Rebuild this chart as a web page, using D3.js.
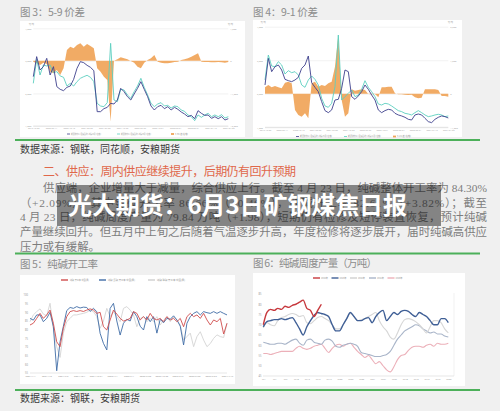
<!DOCTYPE html>
<html><head><meta charset="utf-8">
<script src="https://cdn.jsdelivr.net/npm/d3@7"></script>
<style>html,body{margin:0;padding:0;background:#f0f0f0;}svg{display:block}</style>
</head><body><svg id="c" width="500" height="411"></svg>
<script>
// ---------- DATA ----------
const c3Near=[2515,3130,2720,2822,3078,2566,2822,2208,2126,2085,2187,2228,2433,2771,2976,2945,2863,2802,2700,1440,1440,1532,1573,1696,1676,1798,2157,2054,1901,1798,1983,2157,2362,2126,1901,1614,1491,1594,1635,1532,1594,1491,1573,1512,1430,1368,1286,1327,1225,1471,1389,1327,1338,1235,1286,1225,1286,1184,1225];
const c3Far=[2310,3048,2566,2874,2843,2874,2638,2669,2536,2495,2228,2310,2228,2362,2464,2515,2556,2495,2362,1696,1614,1594,1717,3539,1798,1747,2126,2105,1952,1850,2054,2228,2464,2187,1952,1696,1594,1676,1717,1614,1635,1553,1614,1594,1491,1450,1338,1286,1164,1338,1266,1338,1389,1286,1338,1286,1348,1245,1286];
const c3Spread=[-24,-75,-126,-55,-96,-331,-382,-280,-434,-229,334,437,386,488,539,437,519,457,386,-229,-331,-485,-587,-1867,0,48,109,78,48,-3,-55,-178,-229,-55,27,78,181,-24,-55,-75,-75,-55,-34,-24,27,48,78,130,181,232,-24,-34,-34,-45,-45,-34,-45,-55,-34];
const c3XLabels=["2019-12-02","2020-05-11","2020-10-13","2021-03-08","2021-07-30","2021-12-23","2022-05-25","2022-10-24","2023-03-24","2023-08-21","2024-01-16","2024-04-23"];
const c3LeftTicks=[1000,2000,3000,4000];
const c3RightTicks=[-2000,-1000,0,1000];
const c3Legend=["期货收盘价(活跃合约):纯碱(5月)(左轴)","期货收盘价(活跃合约):纯碱(9月)(左轴)","5-9价差(右轴)"];

const c4Near=[2262,3056,2659,2808,2858,2709,2430,2391,2361,2411,2490,2758,2858,3126,2331,2192,2063,1765,1497,1437,1517,1814,1834,2162,2709,2659,1914,1834,1934,2063,2262,2132,1963,1814,1517,1437,1497,1536,1517,1417,1368,1338,1298,1238,1218,1368,1397,1368,1268,1169,1139,1238,1298,1338,1318,1278];
const c4Far=[2411,3156,2828,2808,2957,2858,2589,2689,2629,2659,2560,2262,2192,2411,2530,2430,2262,1864,1636,1596,1715,2212,3752,1814,1914,2013,2113,1914,1963,2132,2390,2192,2063,1914,1695,1665,1715,1695,1636,1566,1497,1467,1417,1397,1368,1437,1497,1437,1368,1318,1338,1368,1388,1368,1318,1338];
const c4Spread=[192,262,192,232,192,162,331,361,311,-483,-633,-682,-583,-732,311,361,212,262,232,311,361,808,1752,-186,-682,-583,132,93,112,132,112,-7,-17,-7,-106,192,192,212,212,13,-17,-17,-27,-37,-27,-106,-136,-116,132,132,132,132,112,-66,-66,-86];
const c4XLabels=["2019-12-02","2020-05-11","2020-10-13","2021-03-08","2021-07-30","2021-12-23","2022-05-25","2022-10-24","2023-03-24","2023-08-21","2024-01-16","2024-04-23"];
const c4LeftTicks=[1000,2000,3000,4000];
const c4RightTicks=[-1000,0,1000,2000];
const c4Legend=["期货收盘价(活跃合约):纯碱(9月)(左轴)","期货收盘价(活跃合约):纯碱(1月)(左轴)","9-1价差(右轴)"];

const c5Total=[82.7,83.7,86.5,89.4,86.5,88.5,91.3,83.7,73,70.2,80.8,87.5,90.4,91,90.5,91,90.5,91.3,92,91.3,89.4,90,81.7,79.8,85.6,91.3,89,86.5,85,85.6,86.5,90.4,89.4,85.6,87.5,85.6,89.4,86.5,85.6,86.5,84.6,87.5,85.6,86.5,84.6,86.5,81.7,87.5,89.4,87.5,88.5,86.5,89.4,85.6,82.7,85.6,84.6,86.5,77.5,83.7];
const c5Ammonia=[86.5,85.5,88.5,88.5,84.6,86.5,90,81.7,56.3,73,82,91,92.8,92.3,93.3,92.5,93,92.8,90.5,92.3,90.4,77.9,72.1,68.3,92.3,95.2,85,76.9,83.7,86,85,90.4,87.5,82,79.8,87.5,84.6,87.5,78,86,84,86.5,86,88,85.6,82,71.2,83.7,87.5,89.4,90.4,88.5,90.4,89.8,89.4,90.4,89.4,90.4,89.4,88.5];
const c5Joint=[84.6,88.5,90.4,92,89,88,95.2,80.8,70.2,64,78,84.6,86.5,88.5,88.5,89,89.4,90,91.3,90.4,87.5,80.8,85,92.3,87.5,90.4,87.5,84.6,92.3,93.3,91.3,88.5,81.7,86.5,87.5,84.6,86.5,84.6,87.5,82.7,85.6,87.5,84.6,87.5,85.6,82.7,74,76,78,70.2,76,78.8,74,70.2,72,75,77,76,75.5,83.7];
const c5XLabels=["2021/1/1","2021/4/2","2021/7/2","2021/10/1","2021/12/31","2022/4/1","2022/7/1","2022/9/30","2022/12/30","2023/3/31","2023/6/30","2023/9/29","2024/4/19"];
const c5YTicks=[55,60,65,70,75,80,85,90,95,100];
const c5Legend=["纯碱:开工率:中国(周)","纯碱:氨碱:开工率:中国(周)","纯碱:联碱:开工率:中国(周)"];

const c6Y2024=[70,76,77.5,77,78,77.5,79,78.5,79.5,80,81,82,78,77,74,77,80];
const c6Y2023=[69,71.5,72,72.5,72.5,73,72.5,73,73.5,71,68,65,69,72,74.5,76,75.5,75,74,70,67,67,70,73,76,74,72,72,73,73.5,71,74,76,77,72,74,76,75,76.5,77,76.5,75,74,76,75,74,72,70,70,73,73,71];
const c6Y2022=[68.5,71,70,69.5,72,73.5,74,75,75.5,75,74,74.5,71,70.5,72,73.5,74,73,72,70,68,68,70,73,75.5,74,72,72.5,73,74,75,76,72,69,67,64,63,66,70,72.5,73,72.5,71.5,70,68,66,69,72,72,71,68,66];
const c6Y2021=[61.5,61,60.5,60.5,61,61,60.5,61.5,62.5,63,61,60,62.5,63,61.5,61,60.5,62.5,63,62,59.5,59,60,60.5,61,60.5,59.5,56.5,56,55.5,55,54.5,54.5,55,55.5,57,60,63,65,67,68,69,70,69.5,68,67,66,66.5,65.5,65.5,64.5,64];
const c6Y2020=[56,56,55.5,56,56.5,57,57,57,57,58.5,59.5,58.5,58,58.5,59.5,60,60.5,58.5,56.5,58.5,60,60.5,59.5,60.5,61,59,57,55.5,54,55,53,51,52,50,48,47,49.5,53,55,55.5,57.5,59,59.5,59.5,59,60,60.5,59.5,61,60.5,60.5,61];
const c6Years=["2024年","2023年","2022年","2021年","2020年"];
const c6XTicks=[1,4,7,10,13,16,19,22,25,28,31,34,37,40,43,46,49,52];
const c6YTicks=[45,50,55,60,65,70,75,80,85];

const captions=["图 3：5-9 价差","图 4：9-1 价差","图 5：纯碱开工率","图 6：纯碱周度产量（万吨）"];
const sources=["数据来源：钢联，同花顺，安粮期货","数据来源：钢联，安粮期货"];
const heading="二、供应：周内供应继续提升，后期仍有回升预期";
const paraLines=["供应端，企业增量大于减量，综合供应上行。截至 4 月 23 日，纯碱整体开工率为 84.30%","（+2.09%），其中氨碱开工率 86.66%（+0.46%），联碱开工率 82.61%（+3.82%）；截至","4 月 23 日，纯碱周度产量为 79.84 万吨（+1.98），短期仍有检修及短停装置恢复，预计纯碱","产量继续回升。但五月中上旬之后随着气温逐步升高，年度检修将逐步展开，届时纯碱高供应","压力或有缓解。"];
const overlayTitle="光大期货：6月3日矿钢煤焦日报";

// ---------- DRAW ----------
const svg=d3.select('#c');
const CJK='"Noto Sans CJK SC","Noto Sans",sans-serif';
const SERIF='"Liberation Serif","Noto Sans CJK SC",serif';
svg.append('rect').attr('width',500).attr('height',411).attr('fill','#f0f0f0');

function txt(x,y,s,size,color,opt={}){
  const t=svg.append('text').attr('x',x).attr('y',y).text(s)
    .attr('font-size',size).attr('fill',color)
    .attr('font-family',opt.family||CJK)
    .attr('text-anchor',opt.anchor||'start');
  if(opt.w){t.attr('textLength',opt.w).attr('lengthAdjust','spacing');}
  if(opt.weight)t.attr('font-weight',opt.weight);
  return t;
}
function styleAxis(a,size,color){
  a.select('.domain').remove();
  a.selectAll('text').attr('font-size',size).attr('fill',color).attr('font-family','"Noto Sans",sans-serif');
  a.selectAll('line').attr('stroke','#e4e4e4').attr('stroke-width',0.5);
}

function dual(cfg){
  const g=svg.append('g');
  g.append('rect').attr('x',cfg.box[0]).attr('y',cfg.box[1]).attr('width',cfg.box[2]-cfg.box[0]).attr('height',cfg.box[3]-cfg.box[1]).attr('fill','#fff');
  const n=cfg.near.length;
  const x=d3.scaleLinear().domain([0,n-1]).range([cfg.x0,cfg.x1]);
  const yL=d3.scaleLinear().domain(d3.extent(cfg.lt)).range([cfg.yB,cfg.yT]);
  const yR=d3.scaleLinear().domain(d3.extent(cfg.rt)).range([cfg.yB,cfg.yT]);
  const gl=g.append('g').attr('transform',`translate(${cfg.x0},0)`)
    .call(d3.axisLeft(yL).tickValues(cfg.lt).tickSize(-(cfg.x1-cfg.x0)).tickPadding(2).tickFormat(d3.format(',')));
  styleAxis(gl,2.4,'#aaa');
  const gr=g.append('g').attr('transform',`translate(${cfg.x1},0)`)
    .call(d3.axisRight(yR).tickValues(cfg.rt).tickSize(0).tickPadding(2).tickFormat(d3.format(',')));
  styleAxis(gr,2.4,'#aaa');
  g.append('line').attr('x1',cfg.x0).attr('x2',cfg.x1).attr('y1',cfg.yB).attr('y2',cfg.yB).attr('stroke','#ccc').attr('stroke-width',0.5);
  g.append('text').attr('x',cfg.x0-2).attr('y',cfg.yT-3.5).text('元/吨').attr('font-size',2.2).attr('fill','#aaa').attr('text-anchor','middle').attr('font-family',CJK);
  g.append('text').attr('x',cfg.x1+2).attr('y',cfg.yT-3.5).text('元/吨').attr('font-size',2.2).attr('fill','#aaa').attr('text-anchor','middle').attr('font-family',CJK);
  const L=cfg.xl.length;
  const gx=g.append('g').attr('transform',`translate(0,${cfg.yB})`)
    .call(d3.axisBottom(x).tickValues(d3.range(L).map(i=>i*(n-1)/(L-1))).tickSize(0).tickPadding(1.8).tickFormat((d,i)=>cfg.xl[i]));
  styleAxis(gx,2.2,'#aaa');
  g.append('path').datum(cfg.spread)
    .attr('d',d3.area().x((d,i)=>x(i)).y0(yR(0)).y1(d=>yR(d)))
    .attr('fill','#f0a458').attr('opacity',0.92);
  g.append('path').datum(cfg.far).attr('d',d3.line().x((d,i)=>x(i)).y(d=>yL(d)))
    .attr('fill','none').attr('stroke','#5ccfbf').attr('stroke-width',0.9);
  g.append('path').datum(cfg.near).attr('d',d3.line().x((d,i)=>x(i)).y(d=>yL(d)))
    .attr('fill','none').attr('stroke','#3d3f8c').attr('stroke-width',0.9);
  // legend
  const cols=['#3d3f8c','#5ccfbf','#f0a458'];
  cfg.leg.forEach((s,i)=>{
    const lx=cfg.legX[i];
    if(i<2) g.append('line').attr('x1',lx).attr('x2',lx+3).attr('y1',cfg.legY).attr('y2',cfg.legY).attr('stroke',cols[i]).attr('stroke-width',0.8);
    else g.append('rect').attr('x',lx).attr('y',cfg.legY-0.9).attr('width',3).attr('height',1.8).attr('fill',cols[i]);
    g.append('text').attr('x',lx+4).attr('y',cfg.legY+0.8).text(s).attr('font-size',2.1).attr('fill','#999')
      .attr('font-family',CJK).attr('textLength',cfg.legW[i]).attr('lengthAdjust','spacingAndGlyphs');
  });
}

dual({box:[20,21,245,137],x0:33.3,x1:228.3,yT:28.3,yB:126,near:c3Near,far:c3Far,spread:c3Spread,
  lt:c3LeftTicks,rt:c3RightTicks,xl:c3XLabels,leg:c3Legend,legX:[67,117,171],legW:[30,30,13],legY:134});
dual({box:[253,20,462,137],x0:265,x1:448.3,yT:26.7,yB:127.3,near:c4Near,far:c4Far,spread:c4Spread,
  lt:c4LeftTicks,rt:c4RightTicks,xl:c4XLabels,leg:c4Legend,legX:[296,344,393],legW:[32,33,14],legY:136.5});

// chart 5
(function(){
  const g=svg.append('g');
  g.append('rect').attr('x',20).attr('y',275).attr('width',215).attr('height',109).attr('fill','#fff');
  const n=c5Total.length;
  const x=d3.scaleLinear().domain([0,n-1]).range([30,227]);
  const y=d3.scaleLinear().domain([55,100]).range([373,295]);
  const ga=g.append('g').attr('transform','translate(30,0)').call(d3.axisLeft(y).tickValues(c5YTicks).tickSize(0).tickPadding(2));
  styleAxis(ga,2.6,'#999');
  g.append('line').attr('x1',30).attr('x2',227).attr('y1',373).attr('y2',373).attr('stroke','#ccc').attr('stroke-width',0.5);
  const L=c5XLabels.length;
  const gx=g.append('g').attr('transform','translate(0,373)')
    .call(d3.axisBottom(x).tickValues(d3.range(L).map(i=>i*(n-1)/(L-1))).tickSize(0).tickPadding(2.2).tickFormat((d,i)=>c5XLabels[i]));
  styleAxis(gx,2.4,'#999');
  const ln=d3.line().x((d,i)=>x(i)).y(d=>y(d));
  const series=[[c5Joint,'#d4d4d4'],[c5Ammonia,'#3f6ca6'],[c5Total,'#d04c4c']];
  series.forEach(([d,c])=>g.append('path').datum(d).attr('d',ln).attr('fill','none').attr('stroke',c).attr('stroke-width',0.9));
  const legCols=['#d04c4c','#3f6ca6','#cfcfcf'];
  const legX=[61,99,148], legW=[28,36,37];
  c5Legend.forEach((s,i)=>{
    g.append('line').attr('x1',legX[i]).attr('x2',legX[i]+7).attr('y1',280).attr('y2',280).attr('stroke',legCols[i]).attr('stroke-width',1.4);
    g.append('text').attr('x',legX[i]+9).attr('y',281).text(s).attr('font-size',2.4).attr('fill','#999').attr('font-family',CJK)
      .attr('textLength',legW[i]-9).attr('lengthAdjust','spacingAndGlyphs');
  });
})();

// chart 6
(function(){
  const g=svg.append('g');
  g.append('rect').attr('x',253).attr('y',273).attr('width',212).attr('height',113).attr('fill','#fff');
  const x=d3.scaleLinear().domain([1,52]).range([263.3,448.3]);
  const y=d3.scaleLinear().domain([45,85]).range([376,294]);
  const ga=g.append('g').attr('transform','translate(263,0)').call(d3.axisLeft(y).tickValues(c6YTicks).tickSize(0).tickPadding(1.5));
  styleAxis(ga,2.6,'#999');
  g.append('line').attr('x1',263).attr('x2',454).attr('y1',376).attr('y2',376).attr('stroke','#ccc').attr('stroke-width',0.5);
  g.append('line').attr('x1',454).attr('x2',454).attr('y1',293).attr('y2',376).attr('stroke','#e2e2e2').attr('stroke-width',0.5);
  const gx=g.append('g').attr('transform','translate(0,376)')
    .call(d3.axisBottom(x).tickValues(c6XTicks).tickSize(0).tickPadding(2.4).tickFormat(d=>'W'+d));
  styleAxis(gx,2.4,'#999');
  const ln=d3.line().x((d,i)=>x(i+1)).y(d=>y(d)).curve(d3.curveMonotoneX);
  const series=[[c6Y2020,'#ecb0b9',1.1],[c6Y2021,'#a9b5c9',1.1],[c6Y2022,'#d6d6d6',1.1],[c6Y2023,'#3f5f96',1.4],[c6Y2024,'#c7383d',1.4]];
  series.forEach(([d,c,w])=>g.append('path').datum(d).attr('d',ln).attr('fill','none').attr('stroke',c).attr('stroke-width',w));
  const legCols=['#c7383d','#3f5f96','#d0d0d0','#a9b5c9','#ecb0b9'];
  const legX=[313,331.5,350,369,387.5];
  c6Years.forEach((s,i)=>{
    g.append('line').attr('x1',legX[i]).attr('x2',legX[i]+7).attr('y1',278).attr('y2',278).attr('stroke',legCols[i]).attr('stroke-width',1.4);
    g.append('text').attr('x',legX[i]+8).attr('y',279).text(s).attr('font-size',2.4).attr('fill','#999').attr('font-family',CJK)
      .attr('textLength',7).attr('lengthAdjust','spacingAndGlyphs');
  });
})();

// captions & text
txt(20,16,captions[0],10.5,'#8d8d8d',{w:65});
txt(253,16,captions[1],10.5,'#8d8d8d',{w:65});
txt(20,268,captions[2],10.5,'#8d8d8d',{w:78});
txt(253,267,captions[3],10.5,'#8d8d8d',{w:124});
[140,253.5,390].forEach(yy=>svg.append('line').attr('x1',15).attr('x2',480).attr('y1',yy).attr('y2',yy).attr('stroke','#4cb05a').attr('stroke-width',1.8));
txt(20,152.5,sources[0],10,'#3a3a3a',{w:160});
txt(20,402,sources[1],10,'#3a3a3a',{w:120});
txt(43,176,heading,12,'#e0674a',{w:253});
const paraY=[191.8,206.5,221.3,236,250.8];
const paraX=[43,20,20,20,20];
const paraW=[444,467,467,467,80];
paraLines.forEach((s,i)=>txt(paraX[i],paraY[i],s,11.4,'#7d7d7d',{w:paraW[i],family:SERIF}));

// overlay title
svg.append('rect').attr('x',57).attr('y',185).attr('width',384).attr('height',41).attr('fill','rgba(0,0,0,0.45)');
txt(68,214,overlayTitle,24,'#ffffff',{w:339,weight:700});
</script></body></html>
